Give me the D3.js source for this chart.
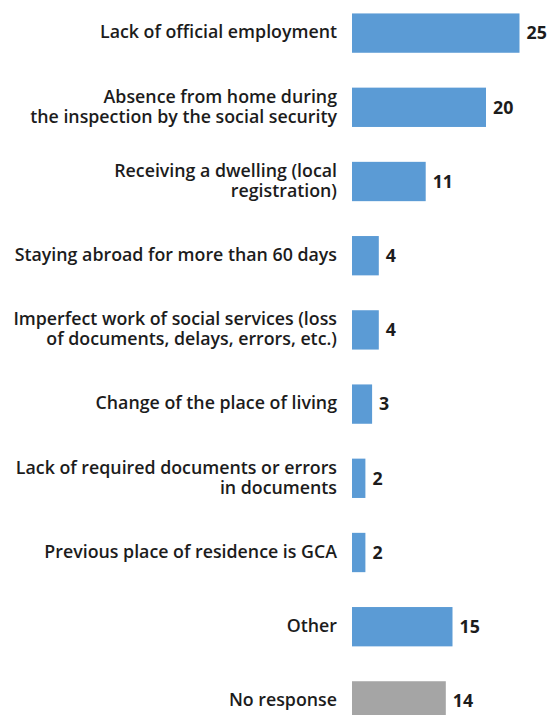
<!DOCTYPE html>
<html>
<head>
<meta charset="utf-8">
<script src="https://cdn.jsdelivr.net/npm/d3@7"></script>
<style>
  html, body { margin: 0; padding: 0; background: #ffffff; }
  svg { display: block; }
</style>
</head>
<body>
<svg id="chart" width="551" height="715"></svg>
<script>
// Reasons (each entry holds the label lines), values in percent
const categories = [
  ["Lack of official employment"],
  ["Absence from home during", "the inspection by the social security"],
  ["Receiving a dwelling (local", "registration)"],
  ["Staying abroad for more than 60 days"],
  ["Imperfect work of social services (loss", "of documents, delays, errors, etc.)"],
  ["Change of the place of living"],
  ["Lack of required documents or errors", "in documents"],
  ["Previous place of residence is GCA"],
  ["Other"],
  ["No response"]
];
const values = [25, 20, 11, 4, 4, 3, 2, 2, 15, 14];
const barColors = ["#5b9bd5", "#5b9bd5", "#5b9bd5", "#5b9bd5", "#5b9bd5",
                   "#5b9bd5", "#5b9bd5", "#5b9bd5", "#5b9bd5", "#a5a5a5"];

const data = categories.map((lines, i) => ({ key: i, lines, value: values[i], color: barColors[i] }));

const svg = d3.select("#chart");
const fontFamily = "'Open Sans', Lato, sans-serif";
const fontSize = 17.8;

const x = d3.scaleLinear().domain([0, 25]).range([352, 519.5]);
const y = d3.scaleBand()
  .domain(data.map(d => d.key))
  .range([-4, 738])
  .paddingInner(0.47)
  .paddingOuter(0.235);

// bars
svg.append("g").selectAll("rect")
  .data(data)
  .join("rect")
  .attr("x", x(0))
  .attr("y", d => y(d.key))
  .attr("width", d => x(d.value) - x(0))
  .attr("height", y.bandwidth())
  .attr("fill", d => d.color);

// category labels, right-aligned left of the bars
const lineH = 20;
const labels = svg.append("g")
  .attr("font-family", fontFamily)
  .attr("font-size", fontSize)
  .attr("font-weight", 600)
  .attr("fill", "#1c1c1c")
  .attr("text-anchor", "end");

labels.selectAll("text")
  .data(data)
  .join("text")
  .attr("x", 337)
  .attr("y", d => y(d.key) + y.bandwidth() / 2 - (d.lines.length - 1) * lineH / 2 - 1)
  .each(function(d) {
    d3.select(this).selectAll("tspan")
      .data(d.lines)
      .join("tspan")
      .attr("x", 337)
      .attr("dy", (l, i) => i === 0 ? "0.35em" : lineH)
      .text(l => l);
  });

// value labels at the end of each bar
svg.append("g")
  .attr("font-family", fontFamily)
  .attr("font-size", fontSize)
  .attr("font-weight", 700)
  .attr("fill", "#1c1c1c")
  .selectAll("text")
  .data(data)
  .join("text")
  .attr("x", d => x(d.value) + 7)
  .attr("y", d => y(d.key) + y.bandwidth() / 2)
  .attr("dy", "0.35em")
  .text(d => d.value);
</script>
</body>
</html>
